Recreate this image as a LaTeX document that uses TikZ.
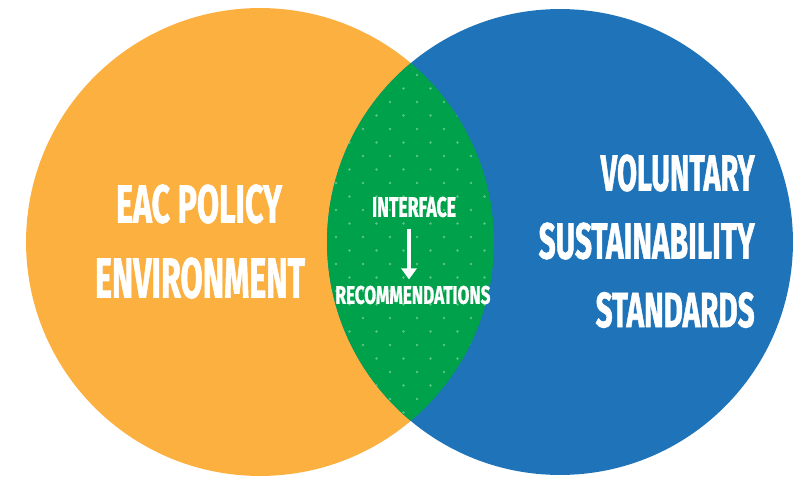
\documentclass[tikz,border=0pt]{standalone}
\usepackage{fontspec}
\setmainfont{Fira Sans}[BoldFeatures={FakeBold=1.5}]
\usetikzlibrary{arrows.meta}

\definecolor{eacorange}{HTML}{FBB040}
\definecolor{vssblue}{HTML}{1F73B8}
\definecolor{mixgreen}{HTML}{00A14B}

% squeeze one line of capitals into a box of given width and cap height
\newcommand{\capline}[3]{\resizebox{#1}{#2}{\bfseries #3}}

\tikzset{
    label/.style={inner sep=0pt,text=white},
    flow/.style={white,line width=2pt,-{Triangle[width=0.3cm,length=0.22cm]}},
    speck/.style={white,opacity=0.35}
}

\begin{document}
\begin{tikzpicture}[x=0.02cm,y=-0.02cm]
        \useasboundingbox (0,0) rectangle (800,479);
        \begin{scope}
            \fill[eacorange] (260,242) circle (4.68cm);
            \fill[vssblue] (560,242) circle (4.66cm);
        \end{scope}
        \begin{scope}
            \clip (260,242) circle (4.68cm);
            \clip (560,242) circle (4.66cm);
            \fill[mixgreen] (300,0) rectangle (520,479);
            \foreach \i in {0,...,30} {
                \foreach \j in {0,...,7} {
                    \fill[speck] ({309+27*\j+13.5*mod(\i,2)},{48+13.5*\i}) circle (0.026cm);
                }
            }
        \end{scope}
        \begin{scope}
            \node[label] (eac) at (199,204) {\capline{3.32cm}{0.76cm}{EAC POLICY}};
            \node[label] (env) at (200,278) {\capline{4.2cm}{0.8cm}{ENVIRONMENT}};
        \end{scope}
        \begin{scope}
            \node[label,anchor=east] (vol) at (755,173) {\capline{3.08cm}{0.72cm}{VOLUNTARY}};
            \node[label,anchor=east] (sus) at (755,241) {\capline{4.32cm}{0.72cm}{SUSTAINABILITY}};
            \node[label,anchor=east] (std) at (755,310) {\capline{3.18cm}{0.7cm}{STANDARDS}};
        \end{scope}
        \begin{scope}
            \node[label] (interface) at (414,207) {\capline{1.68cm}{0.4cm}{INTERFACE}};
            \node[label] (recs) at (413,295) {\capline{3.1cm}{0.36cm}{RECOMMENDATIONS}};
            \draw[flow,shorten <=0.22cm,shorten >=0.12cm] ([xshift=-0.1cm]interface.south) -- ([xshift=-0.1cm]interface.south |- recs.north);
        \end{scope}
    \end{tikzpicture}
\end{document}
